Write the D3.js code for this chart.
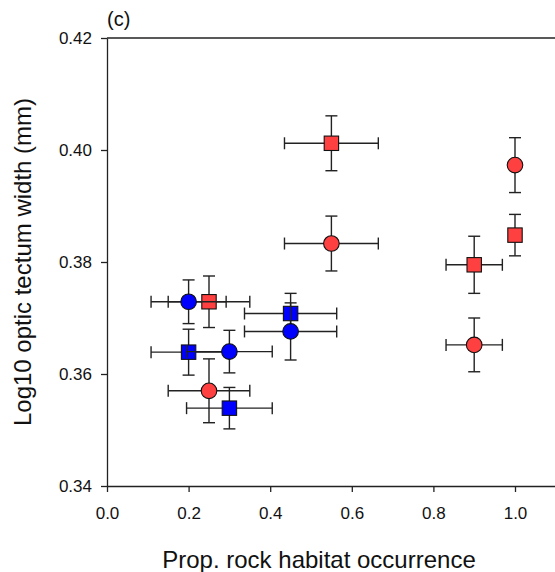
<!DOCTYPE html>
<html lang="en">
<head>
<meta charset="utf-8">
<title>Optic tectum width vs rock habitat</title>
<script src="https://d3js.org/d3.v7.min.js"></script>
<style>
  body { margin: 0; background: #fff; }
  text { font-family: "Liberation Sans", Arial, sans-serif; fill: #111; }
</style>
</head>
<body>
<script>
// Data
var xTicks = [0.0, 0.2, 0.4, 0.6, 0.8, 1.0];
var yTicks = [0.34, 0.36, 0.38, 0.40, 0.42];

// red circles
var xRedCircle  = [0.25, 0.55, 0.90, 1.00];
var yRedCircle  = [0.3570, 0.3833, 0.3652, 0.3973];
var xeRedCircle = [0.100, 0.115, 0.069, 0];
var yeRedCircle = [0.0057, 0.0049, 0.0048, 0.0049];

// red squares
var xRedSquare  = [0.25, 0.55, 0.90, 1.00];
var yRedSquare  = [0.3729, 0.4012, 0.3795, 0.3848];
var xeRedSquare = [0.100, 0.115, 0.069, 0];
var yeRedSquare = [0.0046, 0.0049, 0.0051, 0.0037];

// blue squares
var xBlueSquare  = [0.20, 0.30, 0.45];
var yBlueSquare  = [0.3639, 0.3539, 0.3708];
var xeBlueSquare = [0.092, 0.105, 0.113];
var yeBlueSquare = [0.0041, 0.0037, 0.0036];

// blue circles
var xBlueCircle  = [0.20, 0.30, 0.45];
var yBlueCircle  = [0.3729, 0.3640, 0.3676];
var xeBlueCircle = [0.092, 0.105, 0.113];
var yeBlueCircle = [0.0039, 0.0038, 0.0051];

var w = 555, h = 572;
var red = "#ff4040", blue = "#0000ff";

var svg = d3.select("body").append("svg")
    .attr("width", w)
    .attr("height", h);

var x = d3.scaleLinear().domain([0, 1.1]).range([107, 555.8]);
var y = d3.scaleLinear().domain([0.34, 0.42]).range([486, 38]);

// axes
var xAxis = svg.append("g")
    .attr("transform", "translate(0," + y(0.34) + ")")
    .call(d3.axisBottom(x).tickValues(xTicks).tickFormat(d3.format(".1f"))
        .tickSize(6).tickSizeOuter(0).tickPadding(15));

var yAxis = svg.append("g")
    .attr("transform", "translate(" + x(0) + ",0)")
    .call(d3.axisLeft(y).tickValues(yTicks).tickFormat(d3.format(".2f"))
        .tickSize(6).tickSizeOuter(0).tickPadding(9));

[xAxis, yAxis].forEach(function(a) {
  a.selectAll("path, line").attr("stroke", "#222").attr("stroke-width", 1.3);
  a.selectAll("text").attr("font-size", 17).attr("fill", "#111")
    .attr("font-family", "'Liberation Sans', Arial, sans-serif");
});

// top frame line
svg.append("line")
    .attr("x1", x(0)).attr("x2", x(1.1))
    .attr("y1", y(0.42)).attr("y2", y(0.42))
    .attr("stroke", "#222").attr("stroke-width", 1.3);

function makeSeries(xs, ys, xes, yes) {
  return xs.map(function(v, i) {
    return { x: v, y: ys[i], xe: xes[i], ye: yes[i] };
  });
}

var series = [
  { pts: makeSeries(xRedCircle, yRedCircle, xeRedCircle, yeRedCircle), fill: red, shape: "circle" },
  { pts: makeSeries(xRedSquare, yRedSquare, xeRedSquare, yeRedSquare), fill: red, shape: "square" },
  { pts: makeSeries(xBlueSquare, yBlueSquare, xeBlueSquare, yeBlueSquare), fill: blue, shape: "square" },
  { pts: makeSeries(xBlueCircle, yBlueCircle, xeBlueCircle, yeBlueCircle), fill: blue, shape: "circle" }
];

var cap = 6;

series.forEach(function(s) {
  var g = svg.append("g");
  var bars = g.selectAll("g.bar").data(s.pts).enter().append("g")
      .attr("stroke", "#222").attr("stroke-width", 1.4).attr("fill", "none");

  // vertical error bars
  bars.append("line")
      .attr("x1", function(d) { return x(d.x); }).attr("x2", function(d) { return x(d.x); })
      .attr("y1", function(d) { return y(d.y - d.ye); }).attr("y2", function(d) { return y(d.y + d.ye); });
  bars.append("line")
      .attr("x1", function(d) { return x(d.x) - cap; }).attr("x2", function(d) { return x(d.x) + cap; })
      .attr("y1", function(d) { return y(d.y + d.ye); }).attr("y2", function(d) { return y(d.y + d.ye); });
  bars.append("line")
      .attr("x1", function(d) { return x(d.x) - cap; }).attr("x2", function(d) { return x(d.x) + cap; })
      .attr("y1", function(d) { return y(d.y - d.ye); }).attr("y2", function(d) { return y(d.y - d.ye); });

  // horizontal error bars (only where there is one)
  var hb = bars.filter(function(d) { return d.xe > 0; });
  hb.append("line")
      .attr("x1", function(d) { return x(d.x - d.xe); }).attr("x2", function(d) { return x(d.x + d.xe); })
      .attr("y1", function(d) { return y(d.y); }).attr("y2", function(d) { return y(d.y); });
  hb.append("line")
      .attr("x1", function(d) { return x(d.x - d.xe); }).attr("x2", function(d) { return x(d.x - d.xe); })
      .attr("y1", function(d) { return y(d.y) - cap; }).attr("y2", function(d) { return y(d.y) + cap; });
  hb.append("line")
      .attr("x1", function(d) { return x(d.x + d.xe); }).attr("x2", function(d) { return x(d.x + d.xe); })
      .attr("y1", function(d) { return y(d.y) - cap; }).attr("y2", function(d) { return y(d.y) + cap; });

  // markers
  if (s.shape === "circle") {
    g.selectAll("circle").data(s.pts).enter().append("circle")
        .attr("cx", function(d) { return x(d.x); })
        .attr("cy", function(d) { return y(d.y); })
        .attr("r", 7.8)
        .attr("fill", s.fill).attr("stroke", "#111").attr("stroke-width", 1.1);
  } else {
    g.selectAll("rect").data(s.pts).enter().append("rect")
        .attr("x", function(d) { return x(d.x) - 7.2; })
        .attr("y", function(d) { return y(d.y) - 7.2; })
        .attr("width", 14.4).attr("height", 14.4)
        .attr("fill", s.fill).attr("stroke", "#111").attr("stroke-width", 1.1);
  }
});

// labels
svg.append("text")
    .attr("x", 107).attr("y", 26)
    .attr("font-size", 20)
    .text("(c)");

svg.append("text")
    .attr("x", 319).attr("y", 568)
    .attr("text-anchor", "middle")
    .attr("font-size", 24)
    .text("Prop. rock habitat occurrence");

svg.append("text")
    .attr("transform", "translate(31,262) rotate(-90)")
    .attr("text-anchor", "middle")
    .attr("font-size", 24)
    .text("Log10 optic tectum width (mm)");
</script>
</body>
</html>
